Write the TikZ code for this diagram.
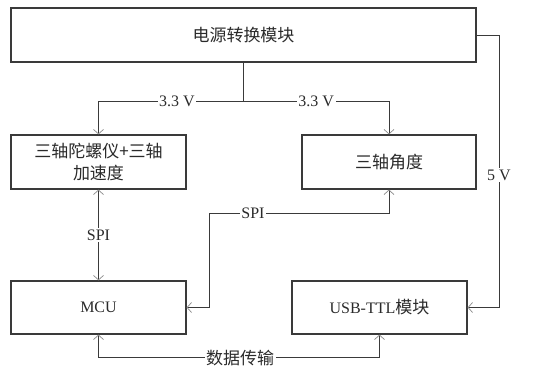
\documentclass[tikz,border=0pt]{standalone}
\usepackage{fontspec}
\setmainfont{Liberation Serif}
\newfontfamily\cjk{Noto Sans CJK SC}
\usetikzlibrary{arrows.meta}
\definecolor{ln}{HTML}{3A3A3A}
\definecolor{tip}{HTML}{8A8A8A}
\definecolor{txt}{HTML}{2A2A2A}
\begin{document}
\begin{tikzpicture}[x=1pt,y=-1pt,
  box/.style={draw=ln,line width=1.2pt,text=txt,inner sep=0pt,align=center,font=\fontsize{16}{22}\selectfont},
  lbl/.style={fill=white,text=txt,inner sep=1.5pt,font=\fontsize{16}{19}\selectfont},
  conn/.style={draw=ln,line width=0.9pt},
  tipA/.style={-{Straight Barb[length=4.5pt,width=10pt,line width=0.7pt,color=tip]}},
  tipB/.style={{Straight Barb[length=4.5pt,width=10pt,line width=0.7pt,color=tip]}-{Straight Barb[length=4.5pt,width=10pt,line width=0.7pt,color=tip]}}
]
\useasboundingbox (0,0) rectangle (542,366);
\node[box,minimum width=465pt,minimum height=54pt] (top) at (243.5,35) {\cjk\fontsize{17}{22}\selectfont 电源转换模块};
\node[box,minimum width=175pt,minimum height=54pt] (gyro) at (98.5,162) {\cjk\fontsize{17}{22}\selectfont 三轴陀螺仪+三轴\\\cjk\fontsize{17}{22}\selectfont 加速度};
\node[box,minimum width=174pt,minimum height=54pt] (angle) at (389,162) {\cjk\fontsize{17}{22}\selectfont 三轴角度};
\node[box,minimum width=175pt,minimum height=53pt] (mcu) at (98.5,307.5) {MCU};
\node[box,minimum width=175pt,minimum height=53pt] (usb) at (379.5,307.5) {USB-TTL{\cjk\fontsize{17}{22}\selectfont 模块}};
\coordinate (j) at (243.5,101);
\coordinate (c5) at (499,35);
\coordinate (s1) at (209,213);
\draw[conn] (top.south) -- (j);
\draw[conn,tipA] (j) -| node[lbl,pos=0.23]{3.3 V} (gyro.north);
\draw[conn,tipA] (j) -| node[lbl,pos=0.25]{3.3 V} (angle.north);
\draw[conn,tipA] (top.east) -- (c5) |- node[lbl,pos=0.257]{5 V} (usb.east);
\draw[conn,tipB] (gyro.south) -- node[lbl]{SPI} (mcu.north);
\draw[conn,tipB] (angle.south) |- node[lbl,pos=0.878]{SPI} (s1) |- (mcu.east);
\draw[conn,tipB] (mcu.south) -- ++(0,23) -| node[lbl,pos=0.252]{\cjk\fontsize{17}{20}\selectfont 数据传输} (usb.south);
\end{tikzpicture}
\end{document}
